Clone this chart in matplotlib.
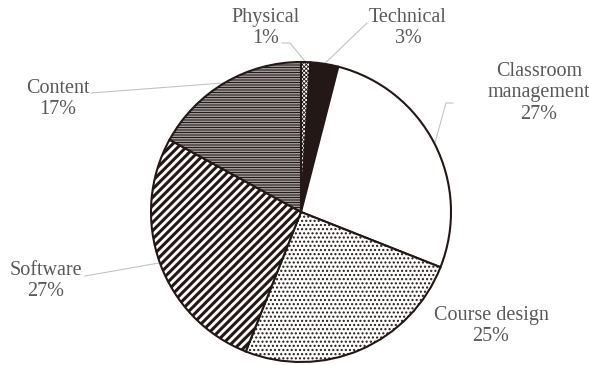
import numpy as np
import matplotlib.pyplot as plt

W, H = 589, 365

categories = ['Physical', 'Technical', 'Classroom\nmanagement', 'Course design', 'Software', 'Content']
shares = [1, 3, 27, 25, 27, 17]

hatches = ['xxxxxxxx', '', '', '....', '////', '----------']
faces = ['white', '#231815', 'white', 'white', 'white', 'white']
hatch_widths = [0.6, 1.0, 1.0, 1.0, 2.2, 0.8]

# label centres and leader starts, in pixels from the top-left corner
label_xy = [(266, 28), (408, 28), (539, 93), (491, 326), (46, 281), (58, 99)]
leader_from = [[(282, 43), (290, 43)], [(367, 23)], [(453, 103), (446, 103)],
               None, [(85, 276)], [(91, 93)]]

cx, cy, r = 301, 212, 150

fig = plt.figure(figsize=(W / 100, H / 100), dpi=100)
ax = fig.add_axes([0, 0, 1, 1])

wedges, _ = ax.pie(shares, startangle=90, counterclock=False,
                   center=(cx, H - cy), radius=r, colors=faces,
                   wedgeprops=dict(edgecolor='#231815', linewidth=1.5))
for w, h, hw in zip(wedges, hatches, hatch_widths):
    if h:
        w.set_hatch(h)
        if hasattr(w, 'set_hatch_linewidth'):
            w.set_hatch_linewidth(hw)

ax.set_xlim(0, W)
ax.set_ylim(0, H)
ax.set_aspect('equal')
ax.axis('off')

cum = 0
for cat, v, (lx, ly), pts in zip(categories, shares, label_xy, leader_from):
    mid = np.deg2rad(90 - 360 * (cum + v / 2) / sum(shares))
    cum += v
    ax.text(lx, H - ly, f'{cat}\n{v}%', ha='center', va='center',
            color='#595959', fontsize=14.5, family='Liberation Serif',
            linespacing=1.15)
    if pts:
        xs = [p[0] for p in pts] + [cx + r * np.cos(mid)]
        ys = [H - p[1] for p in pts] + [H - cy + r * np.sin(mid)]
        ax.plot(xs, ys, color='#bfbfbf', lw=0.75, zorder=0.5)

fig.savefig('out.png', dpi=100)
